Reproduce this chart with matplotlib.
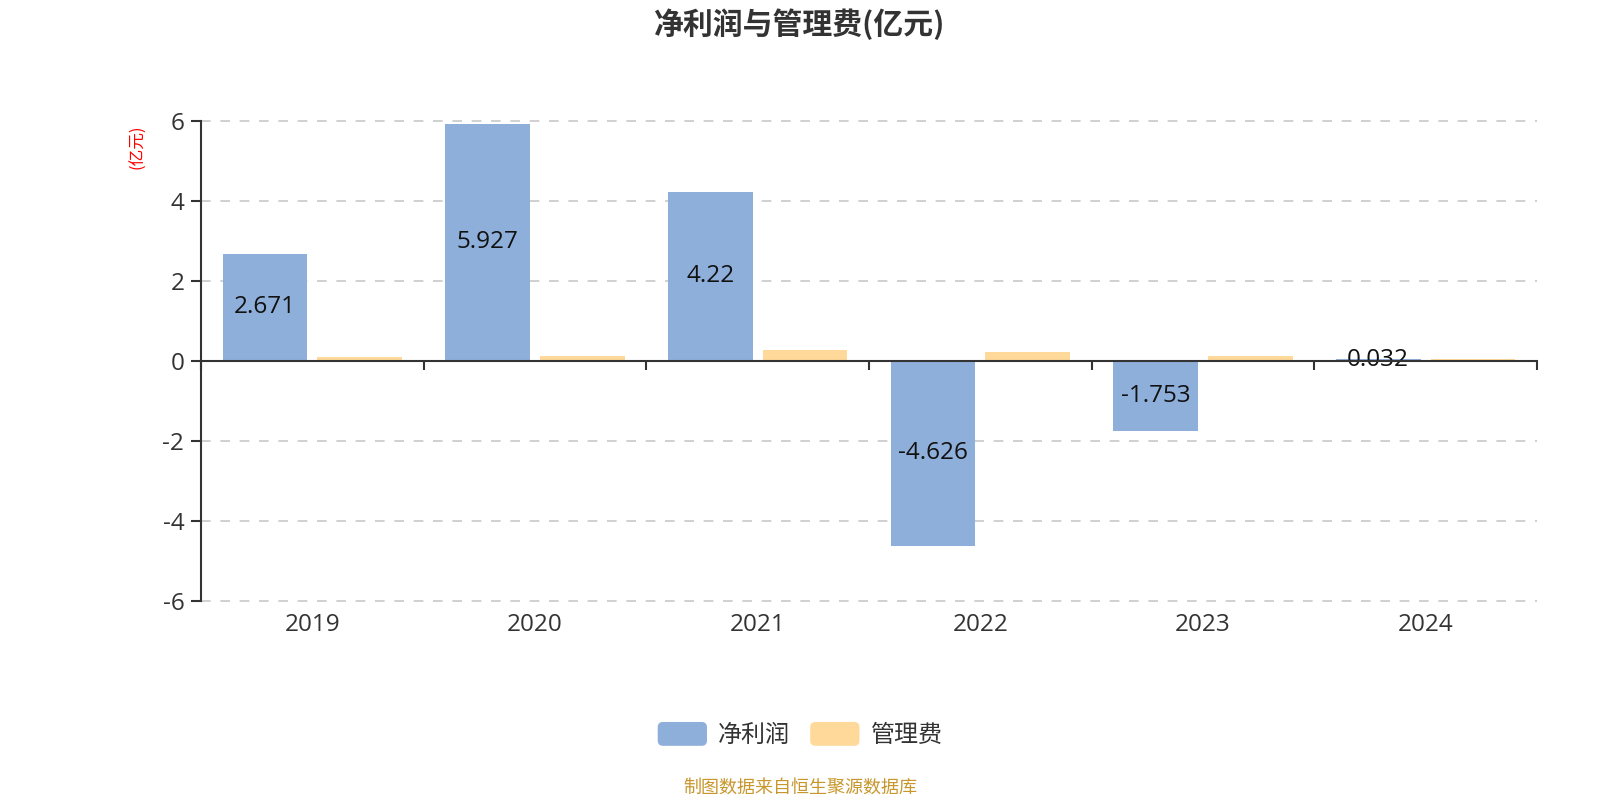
#!/usr/bin/env python3

import numpy as np
import matplotlib
matplotlib.use("Agg")
import matplotlib.pyplot as plt
from matplotlib.patches import Patch, FancyBboxPatch
from matplotlib.legend_handler import HandlerPatch

# Open Sans for digits, CJK family as fallback for Chinese text
plt.rcParams['font.family'] = ['Open Sans', 'Noto Sans CJK SC', 'DejaVu Sans']

# Data (亿元)
years = ["2019", "2020", "2021", "2022", "2023", "2024"]
net_profit = [2.671, 5.927, 4.22, -4.626, -1.753, 0.032]
mgmt_fee = [0.09, 0.13, 0.26, 0.22, 0.11, 0.05]
series_names = ["净利润", "管理费"]
y_ticks = [-6, -4, -2, 0, 2, 4, 6]

BLUE = "#8fafdb"
ORANGE = "#fed999"
DARK = "#333333"
CJK = ['Noto Sans CJK SC', 'DejaVu Sans']


class RoundHandler(HandlerPatch):
    """Legend handle drawn as a rounded box."""
    def create_artists(self, legend, orig_handle, xdescent, ydescent,
                       width, height, fontsize, trans):
        p = FancyBboxPatch((-xdescent, -ydescent), width, height,
                           boxstyle="round,pad=0,rounding_size=%f" % (height * 0.22),
                           fc=orig_handle.get_facecolor(), ec="none", transform=trans)
        return [p]


fig = plt.figure(figsize=(16, 8), dpi=100)
ax = fig.add_axes([0.1256, 0.2491, 0.835, 0.6])

x = np.arange(len(years))
w = 0.38
ax.bar(x - 0.213, net_profit, w, color=BLUE, zorder=3)
ax.bar(x + 0.213, mgmt_fee, w, color=ORANGE, zorder=3)

# value labels in the middle of the profit bars
for xi, v in zip(x, net_profit):
    ax.text(xi - 0.213, v / 2, f"{v:g}", ha="center", va="center",
            fontsize=17.5, color="#111111", zorder=4)

ax.set_xlim(-0.5, len(years) - 0.5)
ax.set_ylim(-6, 6)
ax.set_yticks(y_ticks)
ax.set_yticklabels([str(t) for t in y_ticks])
ax.yaxis.grid(True, linestyle=(0, (5.8, 5.8)), color="#c8c8c8", linewidth=1.2, zorder=0)
for gl in ax.yaxis.get_gridlines():
    gl.set_clip_on(False)

# category axis sits on zero, ticks on band boundaries
ax.spines["top"].set_visible(False)
ax.spines["right"].set_visible(False)
ax.spines["bottom"].set_position(("data", 0))
ax.spines["bottom"].set_color(DARK)
ax.spines["bottom"].set_linewidth(1.5)
ax.spines["bottom"].set_zorder(5)
ax.spines["left"].set_color(DARK)
ax.spines["left"].set_linewidth(1.5)
ax.set_xticks(np.arange(-0.5, len(years), 1.0))
ax.set_xticklabels([])
ax.tick_params(axis="x", direction="out", length=6.5, width=1.5, color=DARK)
ax.tick_params(axis="y", direction="out", length=7, width=1.5, color=DARK,
               labelsize=17.5, labelcolor=DARK, pad=5)

for xi, yr in zip(x, years):
    ax.text(xi, -0.05, yr, transform=ax.get_xaxis_transform(), ha="center",
            va="center", fontsize=17.5, color=DARK)

# titles and notes
fig.text(0.5, 1 - 24 / 800, "净利润与管理费(亿元)", ha="center", va="center",
         fontsize=21.5, fontweight="bold", color=DARK, family=CJK)
fig.text(138 / 1600, 1 - 147 / 800, "(亿元)", rotation=90, ha="center", va="center",
         fontsize=12, color="red", family=CJK)
fig.text(0.5, 1 - 788 / 800, "制图数据来自恒生聚源数据库", ha="center", va="center",
         fontsize=13, color="#c8962c", family=CJK)

handles = [Patch(facecolor=BLUE), Patch(facecolor=ORANGE)]
leg = fig.legend(handles, series_names, loc="center", bbox_to_anchor=(0.5, 1 - 735 / 800),
                 ncol=2, frameon=False, handlelength=2.05,
                 handleheight=1.15, handletextpad=0.45, columnspacing=0.85,
                 prop={'family': CJK, 'size': 17.3},
                 handler_map={Patch: RoundHandler()})
for t in leg.get_texts():
    t.set_color(DARK)

fig.savefig("out.png", dpi=100)
